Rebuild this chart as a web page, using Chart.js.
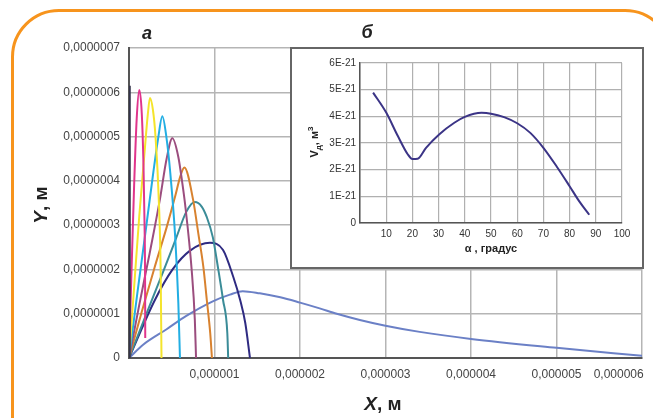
<!DOCTYPE html>
<html><head><meta charset="utf-8">
<script src="https://cdn.jsdelivr.net/npm/chart.js@4"></script>
<style>
html,body{margin:0;padding:0;background:#fff;}
#wrap{position:relative;width:653px;height:418px;overflow:hidden;font-family:"Liberation Sans",Arial,sans-serif;background:#fff;}
#frame{position:absolute;left:11px;top:9px;width:662px;height:470px;border:3px solid #f7941d;border-radius:48px;box-sizing:border-box;}
#main{position:absolute;left:0;top:0;}
#insetBox{position:absolute;left:290px;top:47px;width:354px;height:222px;box-sizing:border-box;border:2px solid #666;background:#fff;}
#inset{position:absolute;left:0;top:0;}
.lbl{position:absolute;font-weight:bold;color:#222;white-space:nowrap;transform:translate(-50%,-50%);}
.big{font-size:19px;}
.small{font-size:11px;}
sub,sup{font-size:8px;line-height:0;}
</style></head>
<body>
<div id="wrap">
  <canvas id="main" width="653" height="418"></canvas>
  <div id="insetBox"><canvas id="inset" width="350" height="218"></canvas></div>
  <div id="frame"></div>
  <div class="lbl" style="left:147px;top:33px;font-size:18px;font-style:italic;">а</div>
  <div class="lbl" style="left:367px;top:32px;font-size:18px;font-style:italic;">б</div>
  <div class="lbl big" style="left:383px;top:404px;"><i>X</i>, м</div>
  <div class="lbl big" style="left:41px;top:205px;transform:translate(-50%,-50%) rotate(-90deg);"><i>Y</i>, м</div>
  <div class="lbl small" style="left:314px;top:142px;transform:translate(-50%,-50%) rotate(-90deg);">V<sub>д</sub>, м<sup>3</sup></div>
  <div class="lbl small" style="left:491px;top:248px;">α , градус</div>
</div>
<script>
// ---- main chart (а): trajectories, X [m] vs Y [m]
const xTickLabels = ['', '0,000001', '0,000002', '0,000003', '0,000004', '0,000005', '0,000006'];
const yTickLabels = ['0', '0,0000001', '0,0000002', '0,0000003', '0,0000004', '0,0000005', '0,0000006', '0,0000007'];

const darkX = [0, 0.004e-6, 0.008e-6];
const darkY = [0, 6.15e-7, 0];
const pinkX = [0, 0.03e-6, 0.06e-6, 0.09e-6, 0.12e-6, 0.15e-6, 0.17e-6, 0.182e-6, 0.188e-6, 0.19e-6];
const pinkY = [0, 2.0e-7, 3.9e-7, 5.4e-7, 6.05e-7, 5.5e-7, 4.3e-7, 3.0e-7, 1.8e-7, 0.45e-7];
const yellowX = [0, 0.06e-6, 0.12e-6, 0.18e-6, 0.22e-6, 0.245e-6, 0.28e-6, 0.31e-6, 0.35e-6, 0.37e-6, 0.38e-6];
const yellowY = [0, 1.6e-7, 3.2e-7, 4.6e-7, 5.5e-7, 5.87e-7, 5.6e-7, 5.0e-7, 3.5e-7, 2.0e-7, 0];
const cyanX = [0, 0.10e-6, 0.19e-6, 0.285e-6, 0.34e-6, 0.39e-6, 0.44e-6, 0.48e-6, 0.54e-6, 0.577e-6, 0.596e-6];
const cyanY = [0, 1.5e-7, 2.8e-7, 4.2e-7, 4.95e-7, 5.46e-7, 4.95e-7, 4.24e-7, 2.74e-7, 1.24e-7, 0];
const mauveX = [0, 0.12e-6, 0.24e-6, 0.363e-6, 0.44e-6, 0.507e-6, 0.577e-6, 0.62e-6, 0.655e-6, 0.733e-6, 0.77e-6, 0.784e-6];
const mauveY = [0, 1.2e-7, 2.35e-7, 3.6e-7, 4.5e-7, 4.96e-7, 4.54e-7, 4.0e-7, 3.49e-7, 1.99e-7, 0.86e-7, 0];
const orangeX = [0, 0.15e-6, 0.3e-6, 0.44e-6, 0.54e-6, 0.6e-6, 0.647e-6, 0.75e-6, 0.81e-6, 0.87e-6, 0.91e-6, 0.95e-6, 0.97e-6];
const orangeY = [0, 1.05e-7, 2.05e-7, 2.95e-7, 3.65e-7, 4.1e-7, 4.3e-7, 3.57e-7, 2.82e-7, 2.05e-7, 1.31e-7, 0.56e-7, 0];
const tealX = [0, 0.2e-6, 0.4e-6, 0.55e-6, 0.67e-6, 0.77e-6, 0.85e-6, 0.91e-6, 0.98e-6, 1.04e-6, 1.10e-6, 1.15e-6, 1.16e-6];
const tealY = [0, 0.98e-7, 1.95e-7, 2.7e-7, 3.3e-7, 3.52e-7, 3.42e-7, 3.18e-7, 2.73e-7, 2.05e-7, 1.31e-7, 0.56e-7, 0];
const navyX = [0, 0.3e-6, 0.51e-6, 0.71e-6, 0.947e-6, 1.1e-6, 1.22e-6, 1.30e-6, 1.36e-6, 1.415e-6];
const navyY = [0, 1.3e-7, 2.0e-7, 2.42e-7, 2.6e-7, 2.44e-7, 1.83e-7, 1.31e-7, 0.79e-7, 0];
const lightX = [0, 0.165e-6, 0.44e-6, 0.67e-6, 0.98e-6, 1.18e-6, 1.33e-6, 1.53e-6, 1.77e-6, 2.0e-6, 2.23e-6, 2.43e-6, 2.70e-6, 3.0e-6, 3.4e-6, 4.0e-6, 5.0e-6, 6.0e-6];
const lightY = [0, 0.3e-7, 0.65e-7, 0.95e-7, 1.28e-7, 1.43e-7, 1.51e-7, 1.46e-7, 1.37e-7, 1.25e-7, 1.12e-7, 1.0e-7, 0.86e-7, 0.73e-7, 0.59e-7, 0.43e-7, 0.23e-7, 0.05e-7];

// ---- inset (б): V_д vs α
const alphaDeg = [5, 10, 14.4, 18.2, 20, 22, 25.2, 30.3, 36, 40, 46.4, 50, 55, 60, 65, 70, 75, 80, 83.7, 87.5];
const volumeE21 = [4.89, 4.14, 3.27, 2.58, 2.4, 2.41, 2.82, 3.33, 3.76, 3.98, 4.13, 4.1, 3.97, 3.74, 3.38, 2.82, 2.13, 1.38, 0.81, 0.31];
const alphaTickLabels = ['', '10', '20', '30', '40', '50', '60', '70', '80', '90', '100'];
const volTickLabels = ['0', '1E-21', '2E-21', '3E-21', '4E-21', '5E-21', '6E-21'];

function pts(xs, ys) { return xs.map((x, i) => ({x: x, y: ys[i]})); }
function ds(xs, ys, color, mono, w) {
  return {data: pts(xs, ys), borderColor: color, borderWidth: w || 2, pointRadius: 0, showLine: true,
          fill: false, cubicInterpolationMode: mono ? 'monotone' : 'default', tension: mono ? 0.4 : 0};
}

const NB = '\u00a0';
new Chart(document.getElementById('main'), {
  type: 'scatter',
  data: {datasets: [
    ds(darkX, darkY, '#34344a', false, 2.5),
    ds(pinkX, pinkY, '#e0358c', true),
    ds(yellowX, yellowY, '#f4e42c', true),
    ds(cyanX, cyanY, '#22aee3', true),
    ds(mauveX, mauveY, '#9b4d7e', true),
    ds(orangeX, orangeY, '#d8822f', true),
    ds(tealX, tealY, '#3b8c98', true),
    ds(navyX, navyY, '#2f2b82', true),
    ds(lightX, lightY, '#6b80c6', true)
  ]},
  options: {
    responsive: false, animation: false, devicePixelRatio: 1,
    layout: {padding: {left: 0, top: 48, right: 11, bottom: 0}},
    plugins: {legend: {display: false}, tooltip: {enabled: false}},
    scales: {
      x: {type: 'linear', min: 0, max: 6e-6,
          ticks: {stepSize: 1e-6, autoSkip: false, maxRotation: 0, minRotation: 0, padding: 9,
                  color: '#444', font: {family: '"Liberation Sans", Arial', size: 12},
                  callback: (v, i) => i === 6 ? xTickLabels[i] + NB.repeat(14) : xTickLabels[i]},
          grid: {color: '#b5b5b5', lineWidth: 1.5, drawTicks: false},
          border: {color: '#555', width: 2},
          afterFit: s => { s.height = 60; s.paddingLeft = 0; s.paddingRight = 0; }},
      y: {type: 'linear', min: 0, max: 7e-7,
          ticks: {stepSize: 1e-7, padding: 9, color: '#444', font: {family: '"Liberation Sans", Arial', size: 12},
                  callback: (v, i) => yTickLabels[i]},
          grid: {color: '#b5b5b5', lineWidth: 1.5, drawTicks: false},
          border: {color: '#555', width: 2},
          afterFit: s => { s.width = 129; s.paddingTop = 0; s.paddingBottom = 0; }}
    }
  }
});

new Chart(document.getElementById('inset'), {
  type: 'scatter',
  data: {datasets: [ds(alphaDeg, volumeE21, '#3b3486', true)]},
  options: {
    responsive: false, animation: false, devicePixelRatio: 1,
    layout: {padding: {left: 0, top: 14, right: 20, bottom: 0}},
    plugins: {legend: {display: false}, tooltip: {enabled: false}},
    scales: {
      x: {type: 'linear', min: 0, max: 100,
          ticks: {stepSize: 10, autoSkip: false, maxRotation: 0, padding: 5, color: '#333',
                  font: {family: '"Liberation Sans", Arial', size: 10},
                  callback: (v, i) => alphaTickLabels[i]},
          grid: {color: '#b0b0b0', lineWidth: 1.2, drawTicks: false},
          border: {color: '#555', width: 1.5},
          afterFit: s => { s.height = 44; s.paddingLeft = 0; s.paddingRight = 0; }},
      y: {type: 'linear', min: 0, max: 6,
          ticks: {stepSize: 1, padding: 4, color: '#333', font: {family: '"Liberation Sans", Arial', size: 10},
                  callback: (v, i) => volTickLabels[i]},
          grid: {color: '#b0b0b0', lineWidth: 1.2, drawTicks: false},
          border: {color: '#555', width: 1.5},
          afterFit: s => { s.width = 68; s.paddingTop = 0; s.paddingBottom = 0; }}
    }
  }
});
</script>
</body></html>
